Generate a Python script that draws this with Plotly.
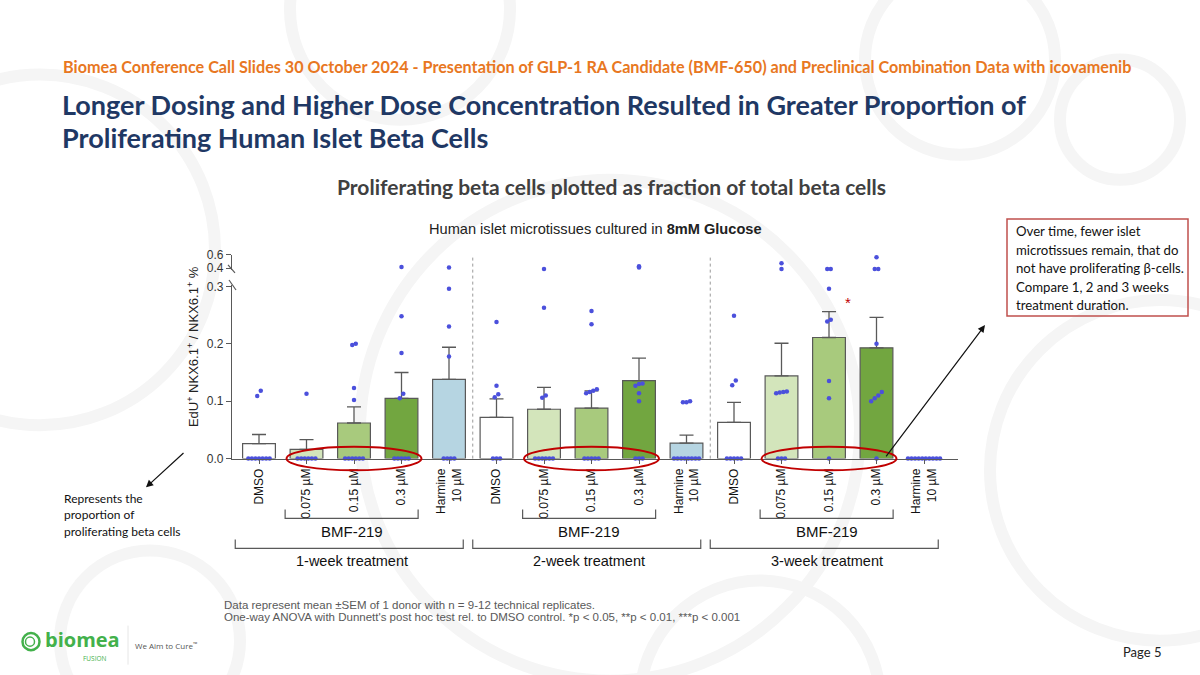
import plotly.graph_objects as go

W, H = 1200, 675

# ---------------- data ----------------
week_labels = ["1-week treatment", "2-week treatment", "3-week treatment"]
dose_labels = ["DMSO", "0.075 µM", "0.15 µM", "0.3 µM", "Harmine<br>10 µM"]
tick_labels = dose_labels * 3
dose_colors = ["#ffffff", "#d3e5bb", "#a8ca7d", "#72a640", "#b6d5e2"]

mean_vals = [0.026, 0.016, 0.062, 0.105, 0.138,
             0.072, 0.086, 0.088, 0.136, 0.027,
             0.063, 0.144, 0.211, 0.193, 0.0]
sem_vals = [0.016, 0.017, 0.028, 0.045, 0.056,
            0.032, 0.038, 0.030, 0.039, 0.014,
            0.035, 0.057, 0.045, 0.053, 0.0]

pts_w1_dmso = [0.118, 0.109, 0, 0, 0, 0, 0, 0, 0]
pts_w1_075 = [0.113, 0, 0, 0, 0, 0, 0]
pts_w1_15 = [0.198, 0.200, 0.123, 0.102, 0, 0, 0, 0, 0, 0]
pts_w1_3 = [0.42, 0.248, 0.184, 0.113, 0.105, 0, 0, 0, 0, 0]
pts_w1_harm = [0.41, 0.296, 0.230, 0.178, 0, 0, 0, 0]
pts_w2_dmso = [0.238, 0.127, 0.112, 0.107, 0, 0, 0]
pts_w2_075 = [0.39, 0.263, 0.110, 0.106, 0, 0, 0, 0, 0, 0]
pts_w2_15 = [0.257, 0.234, 0.121, 0.118, 0.116, 0.114, 0, 0, 0, 0, 0]
pts_w2_3 = [0.43, 0.41, 0.131, 0.127, 0.130, 0.114, 0.100, 0, 0, 0]
pts_w2_harm = [0.100, 0.098, 0.098, 0, 0, 0, 0, 0, 0, 0, 0]
pts_w3_dmso = [0.249, 0.136, 0.128, 0, 0, 0, 0, 0]
pts_w3_075 = [0.475, 0.39, 0.117, 0.116, 0.115, 0.114, 0, 0, 0]
pts_w3_15 = [0.39, 0.39, 0.296, 0.242, 0.239, 0.135, 0.105, 0]
pts_w3_3 = [0.565, 0.39, 0.39, 0.200, 0.116, 0.110, 0.105, 0.100, 0]
pts_w3_harm = [0, 0, 0, 0, 0, 0, 0, 0, 0, 0]

points = [pts_w1_dmso, pts_w1_075, pts_w1_15, pts_w1_3, pts_w1_harm,
          pts_w2_dmso, pts_w2_075, pts_w2_15, pts_w2_3, pts_w2_harm,
          pts_w3_dmso, pts_w3_075, pts_w3_15, pts_w3_3, pts_w3_harm]

sig_marks = [(12.4, 0.272, "*")]

# ---------------- geometry helpers ----------------
X0PX, XSTEP = 259.0, 47.5          # pixel of category 0, pixels per category
XL_PX, XR_PX = 232.0, 958.0
x_range = [(XL_PX - X0PX) / XSTEP, (XR_PX - X0PX) / XSTEP]

Y0PX, YS = 458.3, 573.0            # lower axis: value 0 pixel, px per unit
lo_range = [0.0, 0.303]
UP04, UPS = 268.3, 66.5            # upper axis: pixel of 0.4, px per unit
up_range = [0.372, 0.605]

# empirical correction of the vertical placement seen in the captured page
YOFF, YSC = 6.5, 0.979


def fx(px):
    return px / W


def fy(py):
    return 1 - ((py - YOFF) / YSC) / H


def xpx(xd):
    return X0PX + xd * XSTEP


lo_dom = [fy(Y0PX - lo_range[0] * YS), fy(Y0PX - lo_range[1] * YS)]
up_dom = [fy(UP04 + (0.4 - up_range[0]) * UPS), fy(UP04 - (up_range[1] - 0.4) * UPS)]

AX = "#595959"
FONT_CH = "Arial, Liberation Sans, sans-serif"
FONT_SL = "Lato, Open Sans, sans-serif"


def spread(vals, step=0.075, tol=0.012):
    order = sorted(range(len(vals)), key=lambda i: vals[i])
    offs = [0.0] * len(vals)
    groups = []
    for i in order:
        if groups and abs(vals[i] - vals[groups[-1][-1]]) <= tol:
            groups[-1].append(i)
        else:
            groups.append([i])
    for g in groups:
        n = len(g)
        for k, i in enumerate(g):
            offs[i] = (k - (n - 1) / 2) * step
    return offs


fig = go.Figure()

cats = list(range(len(tick_labels)))
bar_colors = [dose_colors[i % 5] for i in cats]
err = [s if s > 0 else None for s in sem_vals]

fig.add_trace(go.Bar(
    x=cats, y=mean_vals, width=0.69,
    marker=dict(color=bar_colors, line=dict(color=AX, width=1.2)),
    error_y=dict(type="data", array=err, arrayminus=[0] * len(cats), symmetric=False,
                 color=AX, thickness=1.3, width=7),
    xaxis="x", yaxis="y", showlegend=False, hoverinfo="skip"))

lx, ly, ux, uy = [], [], [], []
for c, vals in enumerate(points):
    offs = spread(vals)
    for v, o in zip(vals, offs):
        if v <= lo_range[1]:
            lx.append(c + o); ly.append(v)
        else:
            ux.append(c + o); uy.append(v)

mk = dict(color="#4b50dc", size=4.5)
fig.add_trace(go.Scatter(x=lx, y=ly, mode="markers", marker=mk, cliponaxis=False,
                         xaxis="x", yaxis="y", showlegend=False, hoverinfo="skip"))
fig.add_trace(go.Scatter(x=ux, y=uy, mode="markers", marker=mk, cliponaxis=False,
                         xaxis="x", yaxis="y2", showlegend=False, hoverinfo="skip"))

shapes = []
annotations = []

# faint background rings
for cxp, cyp, r in [(40, 250, 175), (400, 10, 110), (610, 430, 250), (1160, 470, 170),
                    (960, 60, 95), (150, 640, 90), (760, 700, 120), (1120, 120, 60)]:
    shapes.append(dict(type="circle", xref="paper", yref="paper", layer="below",
                       x0=fx(cxp - r), x1=fx(cxp + r), y0=fy(cyp + r), y1=fy(cyp - r),
                       line=dict(color="#f5f5f5", width=12)))

# dotted separators between weeks
for xs in [4.5, 9.5]:
    shapes.append(dict(type="line", xref="x", yref="paper", x0=xs, x1=xs,
                       y0=lo_dom[0], y1=up_dom[1], line=dict(color="#9a9a9a", width=1, dash="dot")))

# axis break marks
for (x0p, y0p, x1p, y1p) in [(229, 280, 236, 290), (228, 265, 235, 273)]:
    shapes.append(dict(type="line", xref="paper", yref="paper", x0=fx(x0p), y0=fy(y0p),
                       x1=fx(x1p), y1=fy(y1p), line=dict(color=AX, width=1.2)))

# red ellipses around BMF-219 groups at baseline
for g in range(3):
    c = 5 * g + 2
    shapes.append(dict(type="circle", xref="paper", yref="paper",
                       x0=fx(xpx(c - 1.42)), x1=fx(xpx(c + 1.42)), y0=fy(470), y1=fy(446.5),
                       line=dict(color="#c00000", width=2)))

# brackets
for g in range(3):
    b0 = fx(xpx(5 * g + 0.55)); b1 = fx(xpx(5 * g + 3.35))
    shapes.append(dict(type="path", xref="paper", yref="paper",
                       path=f"M {b0},{fy(509)} L {b0},{fy(518)} L {b1},{fy(518)} L {b1},{fy(509)}",
                       line=dict(color=AX, width=1.2)))
    annotations.append(dict(x=fx(xpx(5 * g + 1.95)), y=fy(531), xref="paper", yref="paper",
                            text="BMF-219", showarrow=False, xanchor="center", yanchor="middle",
                            font=dict(family=FONT_CH, size=15, color="#111")))
    w0 = fx(xpx(5 * g - 0.5)); w1 = fx(xpx(5 * g + 4.3))
    shapes.append(dict(type="path", xref="paper", yref="paper",
                       path=f"M {w0},{fy(539)} L {w0},{fy(548)} L {w1},{fy(548)} L {w1},{fy(539)}",
                       line=dict(color=AX, width=1.2)))
    annotations.append(dict(x=fx(xpx(5 * g + 1.95)), y=fy(561), xref="paper", yref="paper",
                            text=week_labels[g], showarrow=False, xanchor="center", yanchor="middle",
                            font=dict(family=FONT_CH, size=14.5, color="#111")))

# significance star
for sx, sy, st in sig_marks:
    annotations.append(dict(x=sx, y=sy, xref="x", yref="y", text=st, showarrow=False,
                            font=dict(family=FONT_CH, size=15, color="#c00000")))


def txt(xp, yp, text, size, color, family=FONT_SL, xanchor="left", yanchor="middle", angle=0):
    annotations.append(dict(x=fx(xp), y=fy(yp), xref="paper", yref="paper", text=text,
                            showarrow=False, xanchor=xanchor, yanchor=yanchor, textangle=angle,
                            font=dict(family=family, size=size, color=color)))


txt(61, 67, "<b>Biomea Conference Call Slides 30 October 2024 - Presentation of GLP-1 RA Candidate (BMF-650) and Preclinical Combination Data with icovamenib</b>",
    16.2, "#e87722")
txt(60, 105, "<b>Longer Dosing and Higher Dose Concentration Resulted in Greater Proportion of</b>", 27, "#1f3864")
txt(60, 138, "<b>Proliferating Human Islet Beta Cells</b>", 27, "#1f3864")
txt(611, 187, "<b>Proliferating beta cells plotted as fraction of total beta cells</b>", 21, "#404040",
    xanchor="center")
txt(595, 229, "Human islet microtissues cultured in <b>8mM Glucose</b>", 14.6, "#222", family=FONT_CH,
    xanchor="center")
txt(193, 347, "EdU<sup>+</sup> NKX6.1<sup>+</sup> / NKX6.1<sup>+</sup> %", 13, "#222", family=FONT_CH,
    xanchor="center", angle=-90)

# right callout box
shapes.append(dict(type="rect", xref="paper", yref="paper", x0=fx(1007), x1=fx(1188),
                   y0=fy(316), y1=fy(219), line=dict(color="#c0504d", width=1.5)))
box_lines = ["Over time, fewer islet", "microtissues remain, that do",
             "not have proliferating β-cells.", "Compare 1, 2 and 3 weeks", "treatment duration."]
for i, ln in enumerate(box_lines):
    txt(1014, 231 + i * 18.6, ln, 13.2, "#111")

left_lines = ["Represents the", "proportion of", "proliferating beta cells"]
for i, ln in enumerate(left_lines):
    txt(62, 498 + i * 16.5, ln, 12, "#111")

# arrows
annotations.append(dict(x=fx(146), y=fy(487), xref="paper", yref="paper", ax=39, ay=-35 / YSC,
                        axref="pixel", ayref="pixel", text="", showarrow=True, arrowhead=2,
                        arrowsize=1.2, arrowwidth=1.2, arrowcolor="#111"))
annotations.append(dict(x=fx(985), y=fy(325), xref="paper", yref="paper", ax=-100, ay=130 / YSC,
                        axref="pixel", ayref="pixel", text="", showarrow=True, arrowhead=2,
                        arrowsize=1.2, arrowwidth=1.2, arrowcolor="#111"))

# footer
txt(222, 604, "Data represent mean ±SEM of 1 donor with n = 9-12 technical replicates.", 11.5, "#595959",
    family="Liberation Sans Narrow, Arial Narrow, sans-serif")
txt(222, 616, "One-way ANOVA with Dunnett's post hoc test rel. to DMSO control. *p &lt; 0.05, **p &lt; 0.01, ***p &lt; 0.001",
    11.5, "#595959", family="Liberation Sans Narrow, Arial Narrow, sans-serif")
txt(1163, 651, "Page 5", 13, "#222", xanchor="right")

# logo
shapes.append(dict(type="circle", xref="paper", yref="paper", x0=fx(22.5), x1=fx(39.5),
                   y0=fy(649.5), y1=fy(632.5), line=dict(color="#43b14b", width=2.5)))
shapes.append(dict(type="circle", xref="paper", yref="paper", x0=fx(25.5), x1=fx(34.5),
                   y0=fy(645.5), y1=fy(636.5), line=dict(color="#43b14b", width=1.5)))
txt(43, 639, "<b>biomea</b>", 20, "#43b14b", family="Open Sans, sans-serif", yanchor="middle")
txt(95, 658, "FUSION", 6.5, "#43b14b", family="Open Sans, sans-serif", xanchor="center")
shapes.append(dict(type="line", xref="paper", yref="paper", x0=fx(128), x1=fx(128),
                   y0=fy(625), y1=fy(664), line=dict(color="#e6e6e6", width=1)))
txt(133, 645, "We Aim to Cure<sup>™</sup>", 8, "#555", family="Open Sans, sans-serif")

fig.update_layout(
    width=W, height=H, margin=dict(l=0, r=0, t=0, b=0),
    paper_bgcolor="#ffffff", plot_bgcolor="rgba(0,0,0,0)",
    bargap=0.3, showlegend=False,
    xaxis=dict(domain=[fx(XL_PX), fx(XR_PX)], range=x_range, anchor="y",
               tickmode="array", tickvals=cats, ticktext=tick_labels, tickangle=-90,
               tickfont=dict(family=FONT_CH, size=12, color="#111"),
               showline=True, linecolor=AX, linewidth=1.3, ticks="outside", ticklen=4,
               tickcolor=AX, showgrid=False, zeroline=False),
    yaxis=dict(domain=lo_dom, range=lo_range, anchor="x",
               tickmode="array", tickvals=[0, 0.1, 0.2, 0.3], ticktext=["0.0", "0.1", "0.2", "0.3"],
               tickfont=dict(family=FONT_CH, size=12, color="#333"),
               showline=True, linecolor=AX, linewidth=1.3, ticks="outside", ticklen=5,
               tickcolor=AX, showgrid=False, zeroline=False),
    yaxis2=dict(domain=up_dom, range=up_range, anchor="x",
                tickmode="array", tickvals=[0.4, 0.6], ticktext=["0.4", "0.6"],
                tickfont=dict(family=FONT_CH, size=12, color="#333"),
                showline=True, linecolor=AX, linewidth=1.3, ticks="outside", ticklen=5,
                tickcolor=AX, showgrid=False, zeroline=False),
    shapes=shapes, annotations=annotations,
)

fig.write_html("out.html", config={"displayModeBar": False},
               post_script="document.body.style.margin='0';document.body.style.overflow='hidden';")
